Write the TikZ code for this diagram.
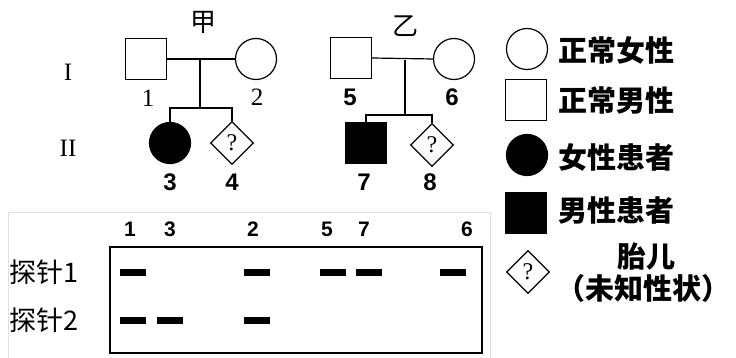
\documentclass[tikz,border=0pt]{standalone}
\usepackage{fontspec}
\setmainfont{Liberation Serif}
\newfontfamily\cjk{Noto Sans CJK SC}
\newfontfamily\numfont{Liberation Sans}
\usetikzlibrary{shapes.geometric}

\begin{document}
\begin{tikzpicture}[x=1pt, y=-1pt, line width=1.2pt,
    male/.style={rectangle, draw, minimum size=41pt, inner sep=0pt},
    female/.style={circle, draw, minimum size=41pt, inner sep=0pt},
    fetus/.style={diamond, draw, minimum size=43pt, inner sep=0pt, font=\fontsize{24}{24}\selectfont},
    ill/.style={fill=black},
    num/.style={font=\numfont\bfseries\fontsize{24}{24}\selectfont},
    serifnum/.style={font=\fontsize{25}{25}\selectfont},
    label/.style={font=\cjk\bfseries\fontsize{29}{29}\selectfont, anchor=west},
    band/.style={line width=7pt}]
  \useasboundingbox (0,0) rectangle (736,358);

  % family jia
  \node[serifnum] (gen1) at (68,72) {I};
  \node[serifnum] (gen2) at (68,148) {II};
  \node[font=\cjk\fontsize{26}{26}\selectfont] (jia) at (203,22) {甲};
  \node[male] (p1) at (146,59) {};
  \node[female] (p2) at (256,59) {};
  \node[female, ill] (p3) at (170,143) {};
  \node[fetus] (p4) at (232,143) {?};
  \coordinate (m1) at (200,60);
  \coordinate (s1) at (200,108);
  \draw (p1.east) -- (p2.west);
  \draw (m1) -- (s1);
  \draw (p3.north) |- (s1) -| (p4.north);
  \node[serifnum] (n1) at (148,98) {1};
  \node[serifnum] (n2) at (257,97) {2};
  \node[num] (n3) at (170,182) {3};
  \node[num] (n4) at (232,182) {4};

  % family yi
  \node[font=\cjk\fontsize{26}{26}\selectfont] (yi) at (405,26) {乙};
  \node[male] (p5) at (351,58) {};
  \node[female] (p6) at (454,59) {};
  \node[male, ill] (p7) at (366,143) {};
  \node[fetus] (p8) at (432,145) {?};
  \coordinate (m2) at (405,60);
  \coordinate (s2) at (405,115);
  \draw (p5.east) -- (p6.west);
  \draw (m2) -- (s2);
  \draw (p7.north) |- (s2) -| (p8.north);
  \node[num] (n5) at (350,97) {5};
  \node[num] (n6) at (452,97) {6};
  \node[num] (n7) at (364,182) {7};
  \node[num] (n8) at (430,182) {8};

  % legend
  \node[female] (k1) at (527,49) {};
  \node[male] (k2) at (526,100) {};
  \node[female, ill] (k3) at (527,155) {};
  \node[male, ill] (k4) at (526,213) {};
  \node[fetus] (k5) at (528,272) {?};
  \node[label] (t1) at (555,50) {正常女性};
  \node[label] (t2) at (555,100) {正常男性};
  \node[label] (t3) at (555,157) {女性患者};
  \node[label] (t4) at (555,210) {男性患者};
  \node[font=\cjk\bfseries\fontsize{29}{29}\selectfont] (t5) at (646,257) {胎儿};
  \node[font=\cjk\bfseries\fontsize{29}{29}\selectfont] (t6) at (643,288) {（未知性状）};

  % probes
  \draw[gray!25, line width=1pt] (8,213) rectangle (490,370);
  \draw (110,247) rectangle (482,353);
  \foreach \x/\n in {130/1, 170/3, 253/2, 327/5, 364/7, 467/6}
    \node[font=\numfont\bfseries\fontsize{21}{21}\selectfont] (c\n) at (\x,229) {\n};
  \node[font=\cjk\fontsize{27}{27}\selectfont, anchor=west] (r1) at (6,272) {探针1};
  \node[font=\cjk\fontsize{27}{27}\selectfont, anchor=west] (r2) at (6,320) {探针2};
  \foreach \x in {133,257,333,369,453}
    \draw[band] (\x-13,272) -- (\x+13,272);
  \foreach \x in {133,170,257}
    \draw[band] (\x-13,320) -- (\x+13,320);
\end{tikzpicture}
\end{document}
